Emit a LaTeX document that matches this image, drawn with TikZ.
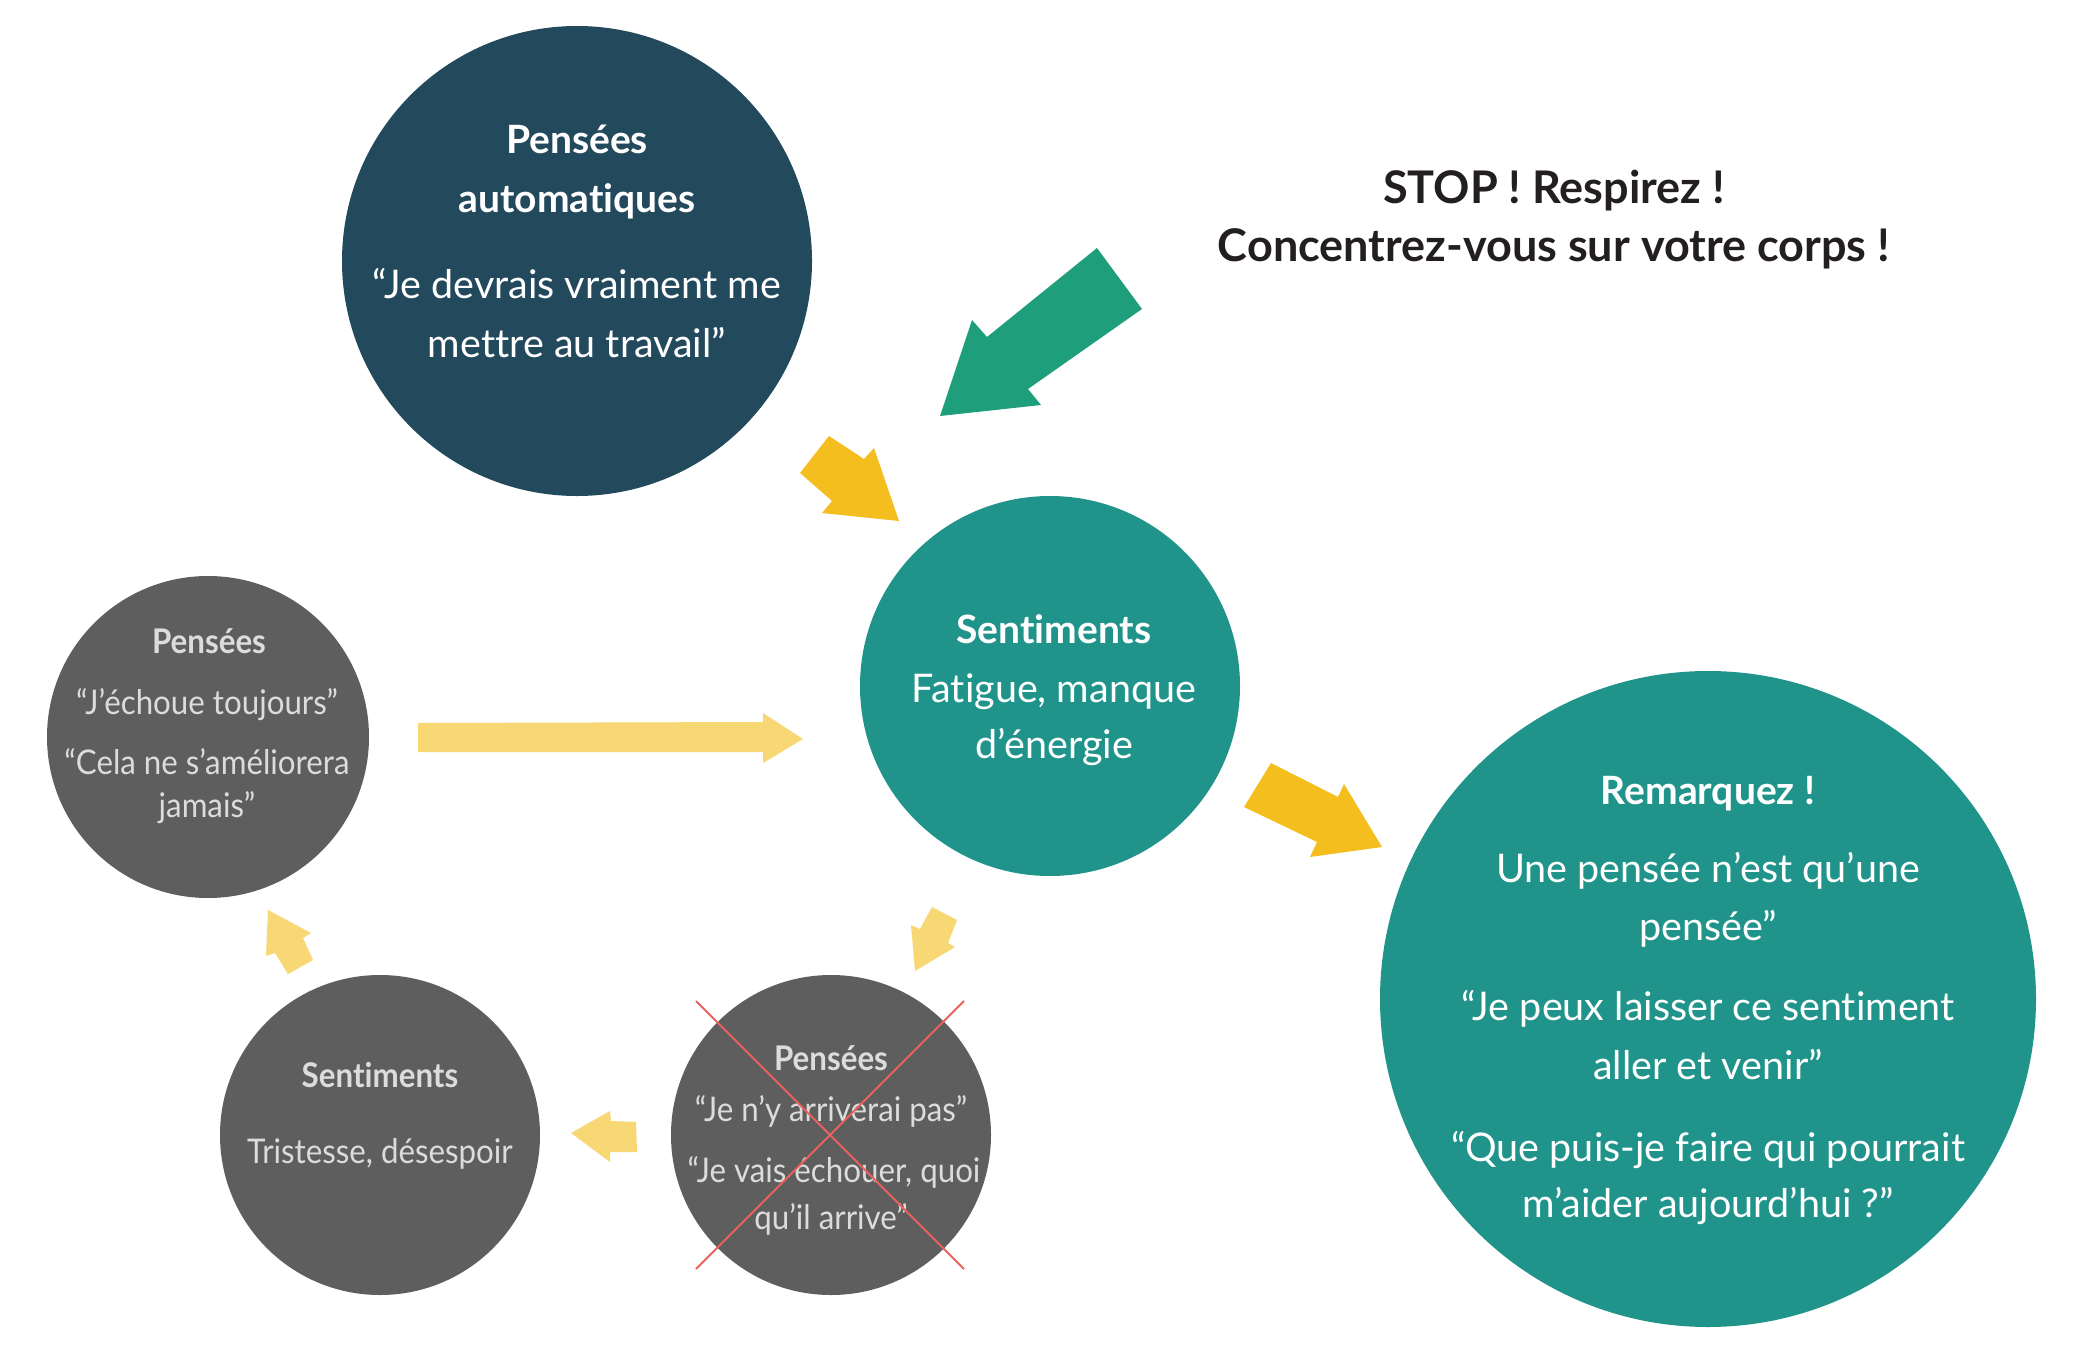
\documentclass[tikz,border=0pt]{standalone}
\usepackage{fontspec}
\setmainfont{Lato}[Ligatures=NoCommon]
\newfontfamily\condfont{Lato}[FakeStretch=0.92, Ligatures=NoCommon]
\definecolor{navy}{HTML}{23495D}
\definecolor{tealc}{HTML}{20948B}
\definecolor{greenarrow}{HTML}{1F9E7B}
\definecolor{yellowarrow}{HTML}{F4BF1E}
\definecolor{lightyellow}{HTML}{F8D775}
\definecolor{grayc}{HTML}{5E5E5E}
\definecolor{graytext}{HTML}{DCDCDC}
\definecolor{redx}{HTML}{E9635C}
\definecolor{darktext}{HTML}{231F20}
\begin{document}
\begin{tikzpicture}[x=1pt,y=-1pt,
  circ/.style={circle, inner sep=0pt, draw=none},
  txt/.style={anchor=base, inner sep=0pt},
  bigb/.style={txt, font=\fontsize{39}{44}\selectfont\bfseries},
  bigr/.style={txt, font=\fontsize{39.5}{44}\selectfont},
  stopb/.style={txt, font=\fontsize{45}{50}\selectfont\bfseries},
  smb/.style={txt, text=graytext, font=\condfont\fontsize{34}{40}\selectfont\bfseries},
  smr/.style={txt, text=graytext, font=\condfont\fontsize{34}{40}\selectfont},
]
\useasboundingbox (0,0) rectangle (2083,1354);
\fill[white] (0,0) rectangle (2083,1354);

% circles
\node[circ, fill=navy, minimum size=470pt] (auto) at (577,261) {};
\node[circ, fill=tealc, minimum size=380pt] (sent) at (1050,686) {};
\node[circ, fill=tealc, minimum size=656pt] (rem) at (1708,999) {};
\node[circ, fill=grayc, minimum size=322pt] (pens1) at (208,737) {};
\node[circ, fill=grayc, minimum size=320pt] (sent2) at (380,1135) {};
\node[circ, fill=grayc, minimum size=320pt] (pens2) at (831,1135) {};

% arrows
\fill[greenarrow] (1097,248) -- (1142,309) -- (1028,389) -- (1041,405) -- (940,416) -- (972,320) -- (987,337) -- cycle;
\fill[yellowarrow] (829,436) -- (864,459) -- (874,448) -- (899,521) -- (822,513) -- (832,501) -- (800,473) -- cycle;
\fill[yellowarrow] (1271,763) -- (1338,797) -- (1344,784) -- (1382,847) -- (1310,857) -- (1317,842) -- (1244,807) -- cycle;
\fill[lightyellow] (418,723) -- (763,722) -- (763,713) -- (803,739) -- (763,763) -- (763,752) -- (418,752) -- cycle;
\fill[lightyellow] (268,910) -- (311,933) -- (303,938) -- (313,960) -- (288,974) -- (275,953) -- (266,956) -- cycle;
\fill[lightyellow] (571,1133) -- (610,1111) -- (611,1121) -- (636,1122) -- (637,1152) -- (610,1152) -- (610,1162) -- cycle;
\fill[lightyellow] (932,907) -- (957,920) -- (948,943) -- (955,947) -- (915,971) -- (911,925) -- (920,929) -- cycle;

% texts: navy circle
\node[bigb, text=white] (t1) at (577,153) {Pensées};
\node[bigb, text=white] (t2) at (577,212) {automatiques};
\node[bigr, text=white] (t3) at (577,298) {“Je devrais vraiment me};
\node[bigr, text=white] (t4) at (577,357) {mettre au travail”};

% STOP
\node[stopb, text=darktext] (s1) at (1554,203) {STOP ! Respirez !};
\node[stopb, text=darktext] (s2) at (1554,261) {Concentrez-vous sur votre corps !};

% teal sentiments
\node[bigb, text=white] (f1) at (1054,643) {Sentiments};
\node[bigr, text=white] (f2) at (1054,702) {Fatigue, manque};
\node[bigr, text=white] (f3) at (1054,758) {d’énergie};

% remarquez
\node[bigb, text=white] (r1) at (1708,804) {Remarquez !};
\node[bigr, text=white] (r2) at (1708,882) {Une pensée n’est qu’une};
\node[bigr, text=white] (r3) at (1708,940) {pensée”};
\node[bigr, text=white] (r4) at (1708,1020) {“Je peux laisser ce sentiment};
\node[bigr, text=white] (r5) at (1708,1079) {aller et venir”};
\node[bigr, text=white] (r6) at (1708,1161) {“Que puis-je faire qui pourrait};
\node[bigr, text=white] (r7) at (1708,1217) {m’aider aujourd’hui ?”};

% gray left
\node[smb] (g1) at (209,653) {Pensées};
\node[smr] (g2) at (207,714) {“J’échoue toujours”};
\node[smr] (g3) at (207,774) {“Cela ne s’améliorera};
\node[smr] (g4) at (207,817) {jamais”};

% gray sentiments
\node[smb] (h1) at (380,1087) {Sentiments};
\node[smr] (h2) at (380,1163) {Tristesse, désespoir};

% gray crossed
\node[smb] (k1) at (831,1070) {Pensées};
\node[smr] (k2) at (831,1121) {“Je n’y arriverai pas”};
\node[smr] (k3) at (834,1182) {“Je vais échouer, quoi};
\node[smr] (k4) at (831,1229) {qu’il arrive”};

% red cross
\coordinate (x1) at (696,1001);
\coordinate (x2) at (964,1269);
\coordinate (x3) at (964,1001);
\coordinate (x4) at (696,1269);
\draw[redx, line width=2pt] (x1) -- (x2);
\draw[redx, line width=2pt] (x3) -- (x4);
\end{tikzpicture}
\end{document}
